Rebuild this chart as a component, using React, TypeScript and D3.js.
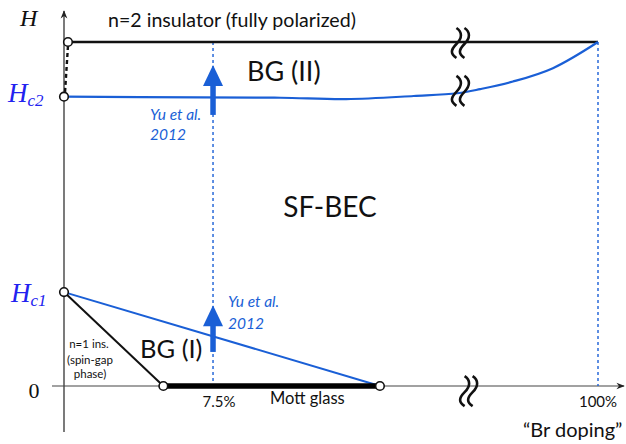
import React from "react";
import * as d3 from "d3";

// ---- data (doping in %, field H in units of saturation field) ----
const H_C1 = 0.273;
const H_C2 = 0.841;
const H_SAT = 1.0;
const BG1_START = 5.0; // end of n=1 insulator at H=0
const MOTT_END = 15.9; // end of Mott glass / BG(I)
const DOPING_MARKS = [7.5, 100];
const DOPING_LABELS = ["7.5%", "100%"];
// upper SF-BEC boundary (Hc2 line)
const HC2_DOPING = [0, 6.8, 10.9, 14.2, 17.6, 19.8, 31.0, 50.2, 73.6, 100];
const HC2_FIELD = [0.841, 0.839, 0.838, 0.834, 0.843, 0.851, 0.863, 0.885, 0.924, 1.0];
// Yu et al. 2012 arrows (doping, from H, to H)
const ARROW_DOPING = [7.5, 7.5];
const ARROW_FROM = [0.788, 0.099];
const ARROW_TO = [0.933, 0.235];
// axis-break marks (doping, H)
const BREAK_DOPING = [20.6, 20.6, 25.4];
const BREAK_FIELD = [0.997, 0.858, -0.015];

const W = 626;
const H = 444;
const BLUE = "#1a5fd6";
const MATHBLUE = "#2222f0";
const SANS = "Lato, 'Open Sans', sans-serif";
const SERIF = "'Liberation Serif', 'DejaVu Serif', serif";

export default function App() {
  const x = d3.scaleLinear().domain([0, 20, 100]).range([64, 461.4, 598]);
  const y = d3.scaleLinear().domain([0, 1]).range([386, 42]);

  const hc2Pts: [number, number][] = HC2_DOPING.map((d, i) => [d, HC2_FIELD[i]]);
  const line = d3
    .line<[number, number]>()
    .x((d) => x(d[0]))
    .y((d) => y(d[1]))
    .curve(d3.curveCatmullRom.alpha(0.5));

  const x0 = x(0);
  const y0 = y(0);

  const squiggle = (cx: number, cy: number) => {
    const stroke = (ox: number) =>
      `M ${ox + 1} ${-15} C ${ox + 7} ${-11}, ${ox + 7} ${-5}, ${ox + 1} ${1} C ${ox - 5} ${7}, ${ox - 5} ${11}, ${ox + 1} ${15}`;
    return (
      <g transform={`translate(${cx - 4},${cy})`}>
        <path d={stroke(-3)} fill="none" stroke="#111" strokeWidth={2.6} />
        <path d={stroke(5)} fill="none" stroke="#111" strokeWidth={2.6} />
      </g>
    );
  };

  const arrow = (d: number, from: number, to: number, key: number) => {
    const cx = x(d);
    const yTip = y(to);
    const yBot = y(from);
    const headLen = 21;
    const headHalf = 10;
    return (
      <g key={key}>
        <line x1={cx} x2={cx} y1={yBot} y2={yTip + headLen - 1} stroke={BLUE} strokeWidth={5.5} />
        <path
          d={`M ${cx} ${yTip} L ${cx + headHalf} ${yTip + headLen} L ${cx - headHalf} ${yTip + headLen} Z`}
          fill={BLUE}
        />
      </g>
    );
  };

  return (
    <svg
      width={W}
      height={H}
      style={{ position: "absolute", left: 0, top: 0, background: "#fff" }}
    >
      <defs>
        <marker id="ah" viewBox="0 0 10 10" refX="9" refY="5" markerWidth="7" markerHeight="7" orient="auto">
          <path d="M0,1 L10,5 L0,9 L3,5 Z" fill="#222" />
        </marker>
      </defs>

      {/* axes */}
      <line x1={x0} x2={x0} y1={432} y2={11} stroke="#222" strokeWidth={1.2} markerEnd="url(#ah)" />
      <line x1={52} x2={624} y1={y0} y2={y0} stroke="#444" strokeWidth={1.2} markerEnd="url(#ah)" />

      {/* vertical dotted guides */}
      {DOPING_MARKS.map((d, i) => (
        <line
          key={i}
          x1={x(d)}
          x2={x(d)}
          y1={y(H_SAT)}
          y2={i === 0 ? y0 - 5 : y0}
          stroke={BLUE}
          strokeWidth={1.4}
          strokeDasharray="3,3"
        />
      ))}

      {/* saturation line */}
      <line x1={x(0.2)} x2={x(100)} y1={y(H_SAT)} y2={y(H_SAT)} stroke="#111" strokeWidth={2.4} />
      {/* dashed connection */}
      <line
        x1={x(0.2)}
        x2={x(0.05)}
        y1={y(H_SAT) + 4}
        y2={y(H_C2) - 4}
        stroke="#111"
        strokeWidth={2.4}
        strokeDasharray="4,3"
      />

      {/* Hc2 boundary */}
      <path d={line(hc2Pts) || ""} fill="none" stroke={BLUE} strokeWidth={2.2} />

      {/* lower boundaries */}
      <line x1={x(0)} y1={y(H_C1)} x2={x(MOTT_END)} y2={y(0)} stroke={BLUE} strokeWidth={2} />
      <line x1={x(0)} y1={y(H_C1)} x2={x(BG1_START)} y2={y(0)} stroke="#111" strokeWidth={2} />
      {/* Mott glass */}
      <line x1={x(BG1_START)} x2={x(MOTT_END)} y1={y0} y2={y0} stroke="#000" strokeWidth={5.5} />

      {/* arrows */}
      {ARROW_DOPING.map((d, i) => arrow(d, ARROW_FROM[i], ARROW_TO[i], i))}

      {/* breaks */}
      {BREAK_DOPING.map((d, i) => (
        <g key={i}>{squiggle(x(d), y(BREAK_FIELD[i]))}</g>
      ))}

      {/* circles */}
      {[
        [0.2, H_SAT],
        [0, H_C2],
        [0, H_C1],
        [BG1_START, 0],
        [MOTT_END, 0],
      ].map((p, i) => (
        <circle key={i} cx={x(p[0])} cy={y(p[1])} r={4.3} fill="#fff" stroke="#111" strokeWidth={1.6} />
      ))}

      {/* axis labels (math) */}
      <text x={20} y={26} fontFamily={SERIF} fontStyle="italic" fontSize={24} fill="#111">H</text>
      <text x={8} y={102} fontFamily={SERIF} fontStyle="italic" fontSize={27} fill={MATHBLUE}>
        H<tspan fontSize={17} dy={4}>c2</tspan>
      </text>
      <text x={11} y={302} fontFamily={SERIF} fontStyle="italic" fontSize={27} fill={MATHBLUE}>
        H<tspan fontSize={17} dy={4}>c1</tspan>
      </text>
      <text x={34} y={398} fontFamily={SERIF} fontSize={22} fill="#111" textAnchor="middle">0</text>

      {/* x tick labels */}
      {DOPING_MARKS.map((d, i) => (
        <text key={i} x={x(d) + (i === 0 ? 6 : 0)} y={407} fontFamily={SANS} fontSize={15} textAnchor="middle" fill="#111">
          {DOPING_LABELS[i]}
        </text>
      ))}
      <text x={523} y={437} fontFamily={SANS} fontSize={20} fill="#111">“Br doping”</text>

      {/* region labels */}
      <text x={108} y={27} fontFamily={SANS} fontSize={19.6} fill="#111">n=2 insulator (fully polarized)</text>
      <text x={247} y={81} fontFamily={SANS} fontSize={27} fill="#111">BG (II)</text>
      <text x={330} y={217} fontFamily={SANS} fontSize={28} textAnchor="middle" fill="#111">SF-BEC</text>
      <text x={140} y={358} fontFamily={SANS} fontSize={25.5} fill="#111">BG (I)</text>
      <text x={270} y={404} fontFamily={SANS} fontSize={16.5} fill="#111">Mott glass</text>
      <g fontFamily={SANS} fontSize={11.5} fill="#111" textAnchor="middle">
        <text x={89} y={348}>n=1 ins.</text>
        <text x={90} y={364}>(spin-gap</text>
        <text x={90} y={378}>phase)</text>
      </g>

      {/* citations */}
      <g fontFamily={SANS} fontStyle="italic" fontSize={15.5} fill={BLUE}>
        <text x={150} y={120}>Yu et al.</text>
        <text x={150} y={140}>2012</text>
        <text x={228} y={307}>Yu et al.</text>
        <text x={228} y={329}>2012</text>
      </g>
    </svg>
  );
}
